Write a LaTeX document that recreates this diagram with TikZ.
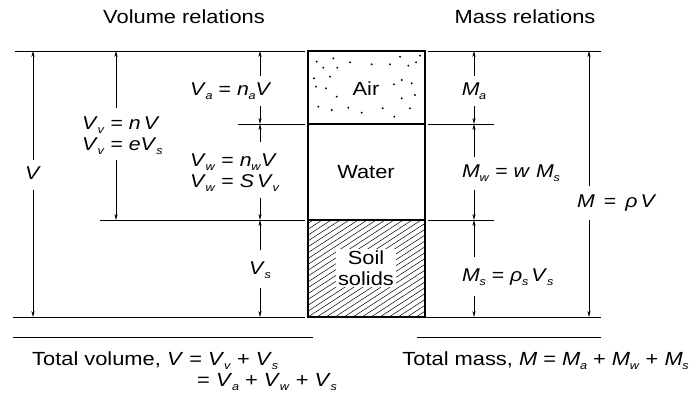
\documentclass[tikz,border=0pt]{standalone}
\usepackage{fontspec}
\setmainfont{Liberation Sans}[FakeStretch=1.15]
\usetikzlibrary{arrows.meta}
\newcommand\sbs[2]{\textit{#1}\kern-0.3pt\raisebox{-0.22em}{\fontsize{11}{11}\selectfont\textit{#2}}}
\newcommand\iv[1]{\textit{#1}}
\begin{document}
\begin{tikzpicture}[x=1pt,y=-1pt,
  txt/.style={font=\fontsize{19}{22}\selectfont, inner sep=0pt},
  lab/.style={font=\fontsize{18.5}{21}\selectfont, inner sep=0pt},
  bnd/.style={line width=0.9pt},
  dimarr/.style={line width=0.6pt,-{Stealth[length=6pt,width=3.2pt]}},
  boxln/.style={line width=1.3pt},
  dot/.style={fill=black,circle,inner sep=0pt,minimum size=2.1pt}]
\fill[white] (0,0) rectangle (691,403);
\useasboundingbox (0,0) rectangle (691,403);

% titles
\node[txt] (tvol) at (184,17) {Volume relations};
\node[txt] (tmass) at (525,17) {Mass relations};

% box
\coordinate (b1) at (308,51);
\coordinate (b2) at (425,124);
\coordinate (b3) at (308,220);
\coordinate (b4) at (425,317);
\begin{scope}
\clip (308,220) rectangle (425,317);
\foreach \x in {-160,-151,...,430} {
  \draw[line width=0.5pt] (\x,317) -- ++(180,-117);
}
\end{scope}
\foreach \p in {(316.7,61.7),(333.3,58.3),(323.3,67.7),(337.3,67.7),(350,62.3),(371.7,64.3),(390,64.3),(400,56.7),(408.3,65.7),(420,55.7),(416,62.3),(314,78.3),(330,76.7),(316,86.7),(326,88.3),(394,84.3),(401.7,80),(411.7,83.3),(336.7,96.7),(401.7,98.3),(415,95),(318.3,106.7),(331.7,110),(348.3,107.7),(361.7,112.7),(382.7,108.3),(394.3,116.7),(410,108.3)}
  \node[dot] at \p {};
\draw[boxln] (b1) rectangle (b4);
\draw[boxln] (308,124) -- (b2);
\draw[boxln] (b3) -- (425,220);
\node[txt] (air) at (366,89) {Air};
\node[txt] (water) at (366,172) {Water};
\node[txt, fill=white, inner sep=2pt, align=center, font=\fontsize{19}{21}\selectfont] (soil) at (366,268) {Soil\\solids};

% boundary lines left
\draw[bnd] (15,51) -- (305,51);
\draw[bnd] (238,124) -- (305,124);
\draw[bnd] (100,220) -- (305,220);
\draw[bnd] (13,317) -- (305,317);
\draw[bnd] (13,337) -- (313,337);
% boundary lines right
\draw[bnd] (428,51) -- (601,51);
\draw[bnd] (428,124) -- (494,124);
\draw[bnd] (428,220) -- (494,220);
\draw[bnd] (425,317) -- (601,317);
\draw[bnd] (417,337) -- (601,337);

% volume labels
\node[lab] (lV) at (33,173) {\iv{V}};
\node[lab, anchor=west] (lVv1) at (82,125) {\sbs{V}{v} = \iv{n}\,\iv{V}};
\node[lab, anchor=west] (lVv2) at (82,146) {\sbs{V}{v} = \iv{e}\sbs{V}{s}};
\node[lab, anchor=west] (lVa) at (190,91) {\sbs{V}{a} = \sbs{n}{a}\iv{V}};
\node[lab, anchor=west] (lVw1) at (190,162) {\sbs{V}{w} = \sbs{n}{w}\iv{V}};
\node[lab, anchor=west] (lVw2) at (190,183) {\sbs{V}{w} = \iv{S}\,\sbs{V}{v}};
\node[lab] (lVs) at (260,270) {\sbs{V}{s}};
% mass labels
\node[lab] (lMa) at (474,91) {\sbs{M}{a}};
\node[lab, anchor=west] (lMw) at (462,173) {\sbs{M}{w} = \iv{w} \sbs{M}{s}};
\node[lab, anchor=west] (lMs) at (462,277) {\sbs{M}{s} = \sbs{ρ}{s}\,\sbs{V}{s}};
\node[lab, anchor=west] (lM) at (577,203) {\iv{M} \,=\, \iv{ρ}\,\iv{V}};

% arrow coordinates
\coordinate (V1) at (33,160); \coordinate (V1e) at (33,51);
\coordinate (V2) at (33,190); \coordinate (V2e) at (33,317);
\coordinate (Vv1) at (116,108); \coordinate (Vv1e) at (116,51);
\coordinate (Vv2) at (116,160); \coordinate (Vv2e) at (116,220);
\coordinate (Va1) at (260,76); \coordinate (Va1e) at (260,51);
\coordinate (Va2) at (260,106); \coordinate (Va2e) at (260,124);
\coordinate (Vw1) at (260,142); \coordinate (Vw1e) at (260,124);
\coordinate (Vw2) at (260,198); \coordinate (Vw2e) at (260,220);
\coordinate (Vs1) at (260,250); \coordinate (Vs1e) at (260,220);
\coordinate (Vs2) at (260,288); \coordinate (Vs2e) at (260,317);
\coordinate (Ma1) at (474,76); \coordinate (Ma1e) at (474,51);
\coordinate (Ma2) at (474,106); \coordinate (Ma2e) at (474,124);
\coordinate (Mw1) at (474,157); \coordinate (Mw1e) at (474,124);
\coordinate (Mw2) at (474,190); \coordinate (Mw2e) at (474,220);
\coordinate (Ms1) at (474,257); \coordinate (Ms1e) at (474,220);
\coordinate (Ms2) at (474,296); \coordinate (Ms2e) at (474,317);
\coordinate (M1) at (589,186); \coordinate (M1e) at (589,51);
\coordinate (M2) at (589,220); \coordinate (M2e) at (589,317);
\foreach \a in {V1,V2,Vv1,Vv2,Va1,Va2,Vw1,Vw2,Vs1,Vs2,Ma1,Ma2,Mw1,Mw2,Ms1,Ms2,M1,M2}
  \draw[dimarr] (\a) -- (\a e);

% totals
\node[txt, anchor=west] (totv) at (32,361) {Total volume, \iv{V} = \sbs{V}{v} + \sbs{V}{s}};
\node[txt, anchor=west] (totv2) at (197,382) {= \sbs{V}{a} + \sbs{V}{w} + \sbs{V}{s}};
\node[txt, anchor=east] (totm) at (689,361) {Total mass, \iv{M} = \sbs{M}{a} + \sbs{M}{w} + \sbs{M}{s}};
\end{tikzpicture}
\end{document}
